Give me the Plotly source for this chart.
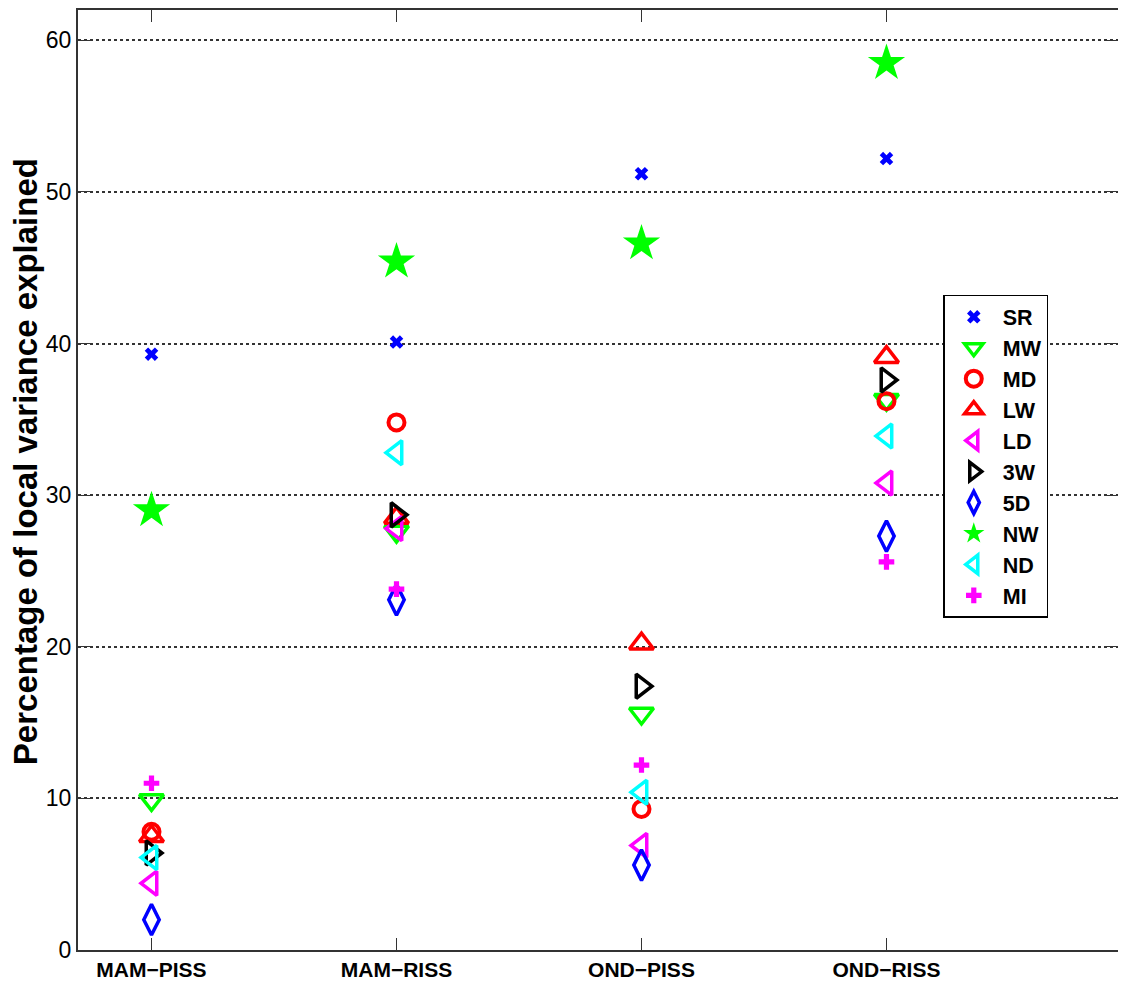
import plotly.graph_objects as go

categories = ["MAM\u2212PISS", "MAM\u2212RISS", "OND\u2212PISS", "OND\u2212RISS"]
x_pos = [1, 2, 3, 4]

SR = [39.3, 40.1, 51.2, 52.2]
MW = [9.9, 27.6, 15.6, 36.3]
MD = [7.8, 34.8, 9.3, 36.2]
LW = [7.5, 28.5, 20.2, 39.1]
LD = [4.4, 27.8, 6.9, 30.8]
W3 = [6.4, 28.7, 17.4, 37.6]
D5 = [2.0, 23.1, 5.6, 27.3]
NW = [29.0, 45.4, 46.6, 58.5]
ND = [6.1, 32.8, 10.4, 33.9]
MI = [11.0, 23.8, 12.2, 25.6]

series = [
    ("SR", SR, "x", "#0000FF", 12, 0),
    ("MW", MW, "triangle-down-open", "#00FF00", 21, 3.5),
    ("MD", MD, "circle-open", "#FF0000", 16, 4),
    ("LW", LW, "triangle-up-open", "#FF0000", 21, 3.5),
    ("LD", LD, "triangle-left-open", "#FF00FF", 21, 3.5),
    ("3W", W3, "triangle-right-open", "#000000", 21, 3.5),
    ("5D", D5, "diamond-tall-open", "#0000FF", 22, 3.5),
    ("NW", NW, "star", "#00FF00", 28, 0),
    ("ND", ND, "triangle-left-open", "#00FFFF", 21, 3.5),
    ("MI", MI, "cross", "#FF00FF", 13, 0),
]

fig = go.Figure()
for i, (name, vals, sym, col, size, lw) in enumerate(series):
    fig.add_trace(go.Scatter(
        x=x_pos, y=vals, mode="markers", name=name, legendgroup=f"g{i}",
        marker=dict(symbol=sym, color=col, size=size,
                    line=dict(color=col, width=lw)),
    ))

fig.add_annotation(
    text="<b>Percentage of local variance explained</b>",
    xref="paper", yref="paper", x=-0.051, y=0.52,
    xanchor="center", yanchor="middle", textangle=-90, showarrow=False,
    font=dict(size=33, family="Liberation Sans, Arial", color="black"),
)

fig.update_layout(
    width=1110, height=976,
    margin=dict(l=70, r=0, t=2, b=34),
    plot_bgcolor="white", paper_bgcolor="white",
    font=dict(family="Liberation Sans, Arial", size=18, color="black"),
    showlegend=True,
    legend=dict(
        x=0.832, y=0.697, xanchor="left", yanchor="top",
        bgcolor="white", bordercolor="black", borderwidth=1.5,
        font=dict(size=21.5, family="Liberation Sans, Arial", weight="bold"),
        tracegroupgap=0, itemwidth=48,
    ),
    xaxis=dict(
        range=[0.7, 4.945], tickmode="array", tickvals=x_pos, ticktext=categories,
        ticks="inside", ticklen=12, tickcolor="#333", showgrid=False,
        showline=True, linecolor="#333", linewidth=2, mirror="ticks",
        tickfont=dict(size=21, weight="bold"), zeroline=False, automargin=False,
    ),
    yaxis=dict(
        range=[0, 62], tickmode="array", tickvals=[0, 10, 20, 30, 40, 50, 60],
        ticks="inside", ticklen=12, tickcolor="#333",
        showgrid=True, gridcolor="#333", griddash="dot", gridwidth=1.5,
        showline=True, linecolor="#333", linewidth=2, mirror="ticks",
        tickfont=dict(size=23), zeroline=False, automargin=False,
    ),
)

fig.write_html("out.html")
